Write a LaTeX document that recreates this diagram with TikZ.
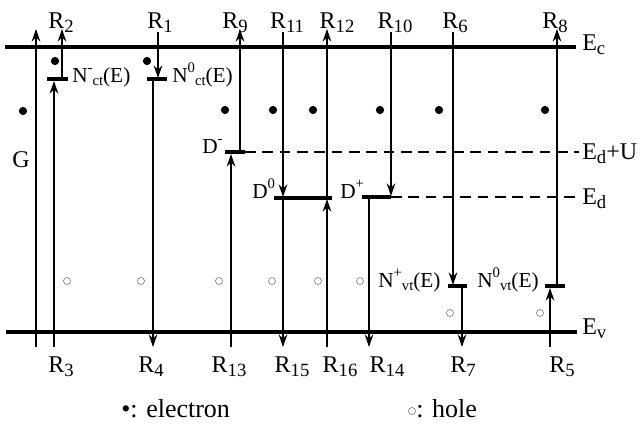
\documentclass[tikz,border=0pt]{standalone}
\usepackage{fontspec}
\setmainfont{Liberation Serif}
\usetikzlibrary{arrows.meta}
\newcommand\Rsub[1]{\raisebox{-3.5pt}{\fontsize{14}{14}\selectfont #1}}
\newcommand\Lsub[1]{\raisebox{-2.5pt}{\fontsize{11}{11}\selectfont #1}}
\newcommand\Lsup[1]{\raisebox{7pt}{\fontsize{11}{11}\selectfont #1}}
\begin{document}
\begin{tikzpicture}[x=0.75pt,y=-0.75pt,
  vline/.style={line width=1.1pt},
  arr/.style={vline,-{Stealth[length=9.5pt,width=6.5pt]}},
  band/.style={line width=3pt},
  lvl/.style={line width=2.4pt},
  dashline/.style={line width=1.2pt, dash pattern=on 8pt off 5pt},
  lbl/.style={font=\fontsize{18}{20}\selectfont, inner sep=0pt, anchor=base},
  slbl/.style={font=\fontsize{16}{18}\selectfont, inner sep=0pt, anchor=base west},
  lgd/.style={font=\fontsize{19.5}{22}\selectfont, inner sep=0pt, anchor=base west},
  elec/.style={fill=black, circle, inner sep=0pt, minimum size=6.2pt},
  hole/.style={draw=gray, circle, inner sep=0pt, minimum size=5.3pt, line width=0.5pt}]
\useasboundingbox (0,0) rectangle (642,425);

% bands
\coordinate (ecL) at (5,47); \coordinate (ecR) at (576,47);
\coordinate (evL) at (6,332); \coordinate (evR) at (577,332);
\draw[band] (ecL) -- (ecR);
\draw[band] (evL) -- (evR);
\node[lbl, anchor=base west] (Ec) at (582,50) {E\Rsub{c}};
\node[lbl, anchor=base west] (Ev) at (582,334) {E\Rsub{v}};

% dashed levels
\coordinate (eduL) at (245,152); \coordinate (eduR) at (579,152);
\coordinate (edL) at (391,197); \coordinate (edR) at (579,197);
\draw[dashline] (eduL) -- (eduR);
\draw[dashline] (edL) -- (edR);
\node[lbl, anchor=base west] (EdU) at (582,159) {E\Rsub{d}+U};
\node[lbl, anchor=base west] (Ed) at (582,204) {E\Rsub{d}};

% trap levels
\coordinate (nctmL) at (47,79); \coordinate (nctmR) at (68,79);
\coordinate (nct0L) at (147,79); \coordinate (nct0R) at (167,79);
\coordinate (dmL) at (225,152); \coordinate (dmR) at (245,152);
\coordinate (d0L) at (274,198); \coordinate (d0R) at (332,198);
\coordinate (dpL) at (362,197); \coordinate (dpR) at (391,197);
\coordinate (nvtpL) at (448,286); \coordinate (nvtpR) at (467,286);
\coordinate (nvt0L) at (545,286); \coordinate (nvt0R) at (565,286);
\foreach \a in {nctm,nct0,dm,d0,dp,nvtp,nvt0} \draw[lvl] (\a L) -- (\a R);

\node[slbl] (Nctm) at (72,82) {N\Lsup{-}\Lsub{ct}(E)};
\node[slbl] (Nct0) at (172,82) {N\Lsup{0}\Lsub{ct}(E)};
\node[slbl] (Dm) at (202,153) {D\Lsup{-}};
\node[slbl] (D0) at (252,198) {D\Lsup{0}};
\node[slbl] (Dp) at (340,198) {D\Lsup{+}};
\node[slbl] (Nvtp) at (378,287) {N\Lsup{+}\Lsub{vt}(E)};
\node[slbl] (Nvt0) at (477,287) {N\Lsup{0}\Lsub{vt}(E)};
\node[lbl, anchor=center] (G) at (21,160) {G};

% transition end points
\coordinate (gB) at (36,347); \coordinate (gT) at (36,29);
\coordinate (r3B) at (54,347); \coordinate (r3T) at (54,81);
\coordinate (r2B) at (62,78); \coordinate (r2T) at (62,29);
\coordinate (r1T) at (158,32); \coordinate (r1B) at (158,78);
\coordinate (r4T) at (153,80); \coordinate (r4B) at (153,347);
\coordinate (r9B) at (240,151); \coordinate (r9T) at (240,29);
\coordinate (r13B) at (231,347); \coordinate (r13T) at (231,154);
\coordinate (r11T) at (283,32); \coordinate (r11B) at (283,197);
\coordinate (r15T) at (283,199); \coordinate (r15B) at (283,347);
\coordinate (r12B) at (327,197); \coordinate (r12T) at (327,29);
\coordinate (r16B) at (327,347); \coordinate (r16T) at (327,199);
\coordinate (r10T) at (391,32); \coordinate (r10B) at (391,196);
\coordinate (r14T) at (369,198); \coordinate (r14B) at (369,347);
\coordinate (r6T) at (453,32); \coordinate (r6B) at (453,285);
\coordinate (r7T) at (462,287); \coordinate (r7B) at (462,347);
\coordinate (r8B) at (557,285); \coordinate (r8T) at (557,29);
\coordinate (r5B) at (550,347); \coordinate (r5T) at (550,288);

\draw[arr] (gB) -- (gT);
\draw[arr] (r3B) -- (r3T);
\draw[arr] (r2B) -- (r2T);
\draw[arr] (r1T) -- (r1B);
\draw[arr] (r4T) -- (r4B);
\draw[arr] (r9B) -- (r9T);
\draw[arr] (r13B) -- (r13T);
\draw[arr] (r11T) -- (r11B);
\draw[arr] (r15T) -- (r15B);
\draw[arr] (r12B) -- (r12T);
\draw[arr] (r16B) -- (r16T);
\draw[arr] (r10T) -- (r10B);
\draw[arr] (r14T) -- (r14B);
\draw[arr] (r6T) -- (r6B);
\draw[arr] (r7T) -- (r7B);
\draw[arr] (r8B) -- (r8T);
\draw[arr] (r5B) -- (r5T);

% top labels
\node[lbl] (lR2) at (61,28) {R\Rsub{2}};
\node[lbl] (lR1) at (160,28) {R\Rsub{1}};
\node[lbl] (lR9) at (235,28) {R\Rsub{9}};
\node[lbl] (lR11) at (287,28) {R\Rsub{11}};
\node[lbl] (lR12) at (337,28) {R\Rsub{12}};
\node[lbl] (lR10) at (395,28) {R\Rsub{10}};
\node[lbl] (lR6) at (455,28) {R\Rsub{6}};
\node[lbl] (lR8) at (555,28) {R\Rsub{8}};
% bottom labels
\node[lbl] (lR3) at (61,372) {R\Rsub{3}};
\node[lbl] (lR4) at (151,372) {R\Rsub{4}};
\node[lbl] (lR13) at (229,372) {R\Rsub{13}};
\node[lbl] (lR15) at (292,372) {R\Rsub{15}};
\node[lbl] (lR16) at (340,372) {R\Rsub{16}};
\node[lbl] (lR14) at (387,372) {R\Rsub{14}};
\node[lbl] (lR7) at (463,372) {R\Rsub{7}};
\node[lbl] (lR5) at (562,372) {R\Rsub{5}};

% electrons
\foreach \x/\y [count=\i] in {55/61,147/61,23/111,225/110,273/110,313/110,380/110,439/110,545/110}
  \node[elec] (e\i) at (\x,\y) {};
% holes
\foreach \x/\y [count=\i] in {67/281,141/281,219/281,272/281,318/281,360/281,450/313,540/313}
  \node[hole] (h\i) at (\x,\y) {};

% legend
\node[lgd] (lgE) at (121,417) {\textbullet: electron};
\node[hole] (lgHc) at (412,411) {};
\node[lgd] (lgH) at (416,417) {: hole};
\end{tikzpicture}
\end{document}
